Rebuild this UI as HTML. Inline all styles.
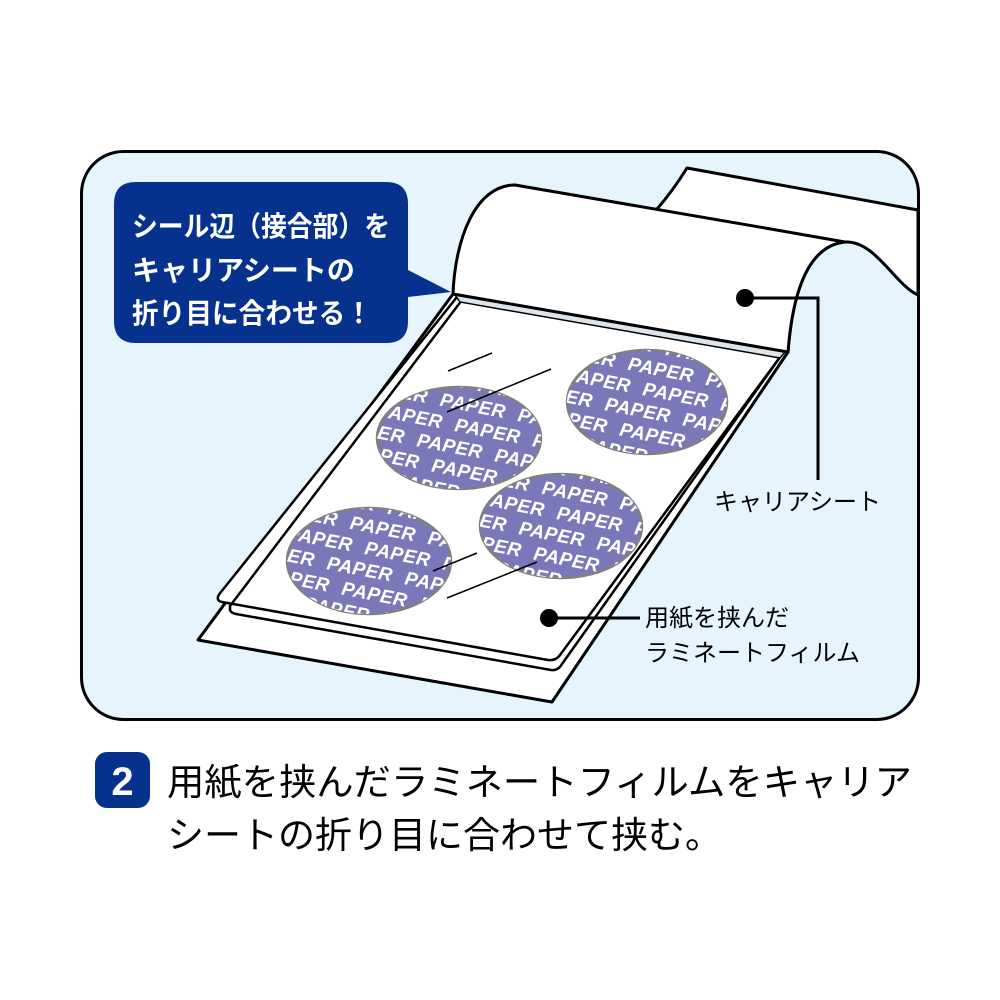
<!DOCTYPE html>
<html><head><meta charset="utf-8"><style>
html,body{margin:0;padding:0;background:#fff;}
svg{display:block;}
.jp{font-family:"Liberation Sans","Noto Sans CJK JP",sans-serif;}
.pp{font-family:"Liberation Sans",sans-serif;font-weight:bold;font-style:italic;font-size:19px;fill:#fff;word-spacing:7px;letter-spacing:0.5px;}
</style></head><body>
<svg width="1000" height="1000" viewBox="0 0 1000 1000" xmlns="http://www.w3.org/2000/svg">
<defs>
<clipPath id="c1"><ellipse cx="459" cy="438" rx="82" ry="51"/></clipPath>
<clipPath id="c2"><ellipse cx="647" cy="402" rx="80" ry="52"/></clipPath>
<clipPath id="c3"><ellipse cx="369" cy="561" rx="82" ry="53"/></clipPath>
<clipPath id="c4"><ellipse cx="561" cy="526" rx="81" ry="52"/></clipPath>
</defs>
<rect x="81.5" y="151.5" width="837" height="568" rx="42" fill="#e6f4fd" stroke="#000" stroke-width="3"/>

<path d="M657,209 Q672,192 687,168 L918,210 L918,295 C895,285 875,240 845,242 C805,246 792,300 788,352 Z" fill="#fff" stroke="#000" stroke-width="3" stroke-linejoin="round"/>
<path d="M453,294 C455,240 475,185 515,185 L765,228 L845,242 C805,246 792,300 788,352 L552,702 L198,640 Z" fill="#fff" stroke="#000" stroke-width="3" stroke-linejoin="round"/>
<path d="M457,297 L221,592 Q214,600 222,602 L548,660 Q556,661 560,655 L783,353 Z" fill="#fff" stroke="#000" stroke-width="2.5" stroke-linejoin="round"/>
<path d="M462,300 L230,606 L230,610 Q231,613 236,614 L551,670 Q558,671 562,664 L783,353" fill="none" stroke="#000" stroke-width="2.5" stroke-linejoin="round"/>
<path d="M455,295 L785,352 L780,358 L460,302 Z" fill="#dde4ea" stroke="#000" stroke-width="1.5"/>
<line x1="453" y1="294" x2="788" y2="352" stroke="#000" stroke-width="3"/>

<g stroke="#808080" stroke-width="2.5" fill="#7b78b9">
<ellipse cx="459" cy="438" rx="82" ry="51"/>
<ellipse cx="647" cy="402" rx="80" ry="52"/>
<ellipse cx="369" cy="561" rx="82" ry="53"/>
<ellipse cx="561" cy="526" rx="81" ry="52"/>
</g>
<g clip-path="url(#c1)"><g transform="translate(459,438) rotate(11)" class="pp">
<text x="-150" y="-50">PAPER PAPER PAPER PAPER</text>
<text x="-105" y="-28">PAPER PAPER PAPER PAPER</text>
<text x="-165" y="-6">PAPER PAPER PAPER PAPER</text>
<text x="-120" y="16">PAPER PAPER PAPER PAPER</text>
<text x="-180" y="38">PAPER PAPER PAPER PAPER</text>
<text x="-135" y="60">PAPER PAPER PAPER PAPER</text>
</g></g>
<g clip-path="url(#c2)"><g transform="translate(647,402) rotate(11)" class="pp">
<text x="-150" y="-50">PAPER PAPER PAPER PAPER</text>
<text x="-105" y="-28">PAPER PAPER PAPER PAPER</text>
<text x="-165" y="-6">PAPER PAPER PAPER PAPER</text>
<text x="-120" y="16">PAPER PAPER PAPER PAPER</text>
<text x="-180" y="38">PAPER PAPER PAPER PAPER</text>
<text x="-135" y="60">PAPER PAPER PAPER PAPER</text>
</g></g>
<g clip-path="url(#c3)"><g transform="translate(369,561) rotate(11)" class="pp">
<text x="-150" y="-50">PAPER PAPER PAPER PAPER</text>
<text x="-105" y="-28">PAPER PAPER PAPER PAPER</text>
<text x="-165" y="-6">PAPER PAPER PAPER PAPER</text>
<text x="-120" y="16">PAPER PAPER PAPER PAPER</text>
<text x="-180" y="38">PAPER PAPER PAPER PAPER</text>
<text x="-135" y="60">PAPER PAPER PAPER PAPER</text>
</g></g>
<g clip-path="url(#c4)"><g transform="translate(561,526) rotate(11)" class="pp">
<text x="-150" y="-50">PAPER PAPER PAPER PAPER</text>
<text x="-105" y="-28">PAPER PAPER PAPER PAPER</text>
<text x="-165" y="-6">PAPER PAPER PAPER PAPER</text>
<text x="-120" y="16">PAPER PAPER PAPER PAPER</text>
<text x="-180" y="38">PAPER PAPER PAPER PAPER</text>
<text x="-135" y="60">PAPER PAPER PAPER PAPER</text>
</g></g>
<g stroke="#000" stroke-width="1.5">
<line x1="448" y1="371" x2="492" y2="353"/>
<line x1="447" y1="412" x2="551" y2="369"/>
<line x1="433" y1="571" x2="477" y2="553"/>
<line x1="447" y1="598" x2="537" y2="562"/>
</g>

<path d="M136,182 H386 Q408,182 408,204 V270 L451,292 L408,297 V321 Q408,343 386,343 H136 Q114,343 114,321 V204 Q114,182 136,182 Z" fill="#06318d"/>
<g class="jp" fill="#fff" font-size="28" font-weight="bold">
<text x="132" y="236" textLength="258" lengthAdjust="spacingAndGlyphs">シール辺（接合部）を</text>
<text x="132" y="280">キャリアシートの</text>
<text x="132" y="323" textLength="240" lengthAdjust="spacingAndGlyphs">折り目に合わせる！</text>
</g>

<circle cx="745" cy="298" r="9" fill="#000"/>
<polyline points="745,298 818,298 818,480" fill="none" stroke="#000" stroke-width="3"/>
<circle cx="549" cy="618" r="9" fill="#000"/>
<line x1="549" y1="618" x2="640" y2="618" stroke="#000" stroke-width="3"/>
<g class="jp" fill="#000" font-size="24">
<text x="714" y="510">キャリアシート</text>
<text x="645" y="626">用紙を挟んだ</text>
<text x="645" y="661">ラミネートフィルム</text>
</g>

<rect x="95" y="752" width="55" height="56" rx="12" fill="#06318d"/>
<text x="122.5" y="795" text-anchor="middle" font-family="Liberation Sans, sans-serif" font-weight="bold" font-size="40" fill="#fff">2</text>
<g class="jp" fill="#000" font-size="37">
<text x="167" y="795" textLength="745" lengthAdjust="spacingAndGlyphs">用紙を挟んだラミネートフィルムをキャリア</text>
<text x="167" y="848">シートの折り目に合わせて挟む。</text>
</g>
</svg>
</body></html>
